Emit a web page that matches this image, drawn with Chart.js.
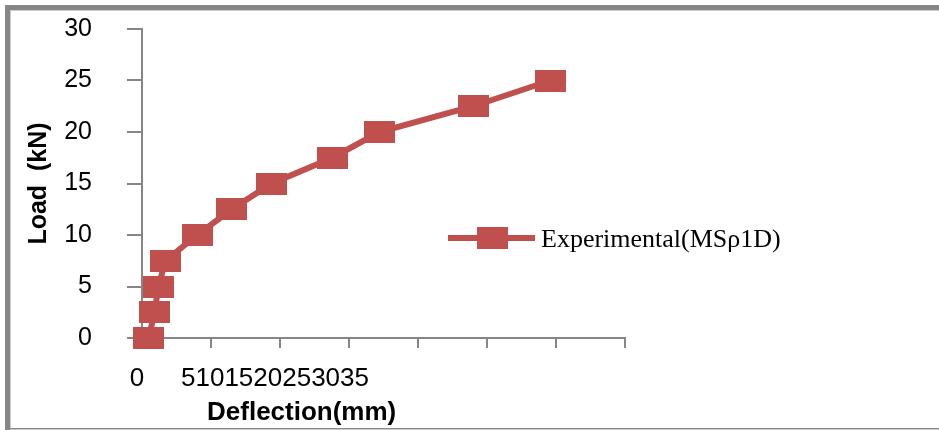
<!DOCTYPE html>
<html>
<head>
<meta charset="utf-8">
<script src="https://cdn.jsdelivr.net/npm/chart.js@4.4.1/dist/chart.umd.min.js"></script>
<style>
  html, body { margin: 0; padding: 0; background: #fff; }
  #wrap { position: relative; width: 939px; height: 430px; overflow: hidden; }
  /* grey frame round the picture (right side is cut off) */
  .frame { position: absolute; left: 5px; top: 5px; right: -20px; bottom: -20px;
           border-top: 5px solid #868686; border-left: 5px solid #868686; }
  .inner { position: absolute; left: 10px; top: 10px; right: -20px; bottom: -20px;
           border-top: 1px solid #cdcdcd; border-left: 1px solid #cdcdcd; }
  .base  { position: absolute; left: 10px; right: 0; top: 428px; height: 1px;
           background: #8a8a8a; border-bottom: 1px solid #c8c8c8; }
  canvas { position: absolute; left: 0; top: 0; }
</style>
</head>
<body>
<div id="wrap">
  <div class="frame"></div>
  <div class="inner"></div>
  <div class="base"></div>
  <canvas id="chart" width="939" height="430"></canvas>
</div>
<script>
// values
const deflection = [0.5, 0.9, 1.2, 1.7, 4.0, 6.5, 9.4, 13.8, 17.2, 24.0, 29.6]; // mm
const load       = [0, 2.5, 5, 7.5, 10, 12.5, 15, 17.5, 20, 22.5, 25];           // kN
const seriesName = "Experimental(MSρ1D)";
// x tick text as printed in the source (labels run together)
const xTickText  = ["0", "", "5101520253035", "", "", "", "", ""];

const red  = "#C0504D";
const grey = "#868686";

// square-ish marker used by Excel
const marker = document.createElement("canvas");
marker.width = 31;
marker.height = 22;
const mctx = marker.getContext("2d");
mctx.fillStyle = red;
mctx.fillRect(0, 0, 31, 22);

// legend sits inside the plot, like the original
const legendInPlot = {
  id: "legendInPlot",
  afterDatasetsDraw(chart) {
    const ds = chart.data.datasets[0];
    const ctx = chart.ctx;
    const x = 448, y = 238;
    ctx.save();
    ctx.strokeStyle = ds.borderColor;
    ctx.lineWidth = 6;
    ctx.beginPath();
    ctx.moveTo(x, y);
    ctx.lineTo(x + 87, y);
    ctx.stroke();
    ctx.drawImage(marker, x + 44 - marker.width / 2, y - marker.height / 2);
    ctx.fillStyle = "#000";
    ctx.font = '26px "Liberation Serif", "Times New Roman", serif';
    ctx.textBaseline = "alphabetic";
    ctx.fillText(ds.label, x + 93, y + 8.5);
    ctx.restore();
  }
};

new Chart(document.getElementById("chart"), {
  type: "line",
  data: {
    datasets: [{
      label: seriesName,
      data: deflection.map((d, i) => ({ x: d, y: load[i] })),
      borderColor: red,
      backgroundColor: red,
      borderWidth: 6,
      tension: 0,
      pointStyle: marker,
      pointRadius: 16,
      clip: false
    }]
  },
  options: {
    responsive: false,
    animation: false,
    layout: { padding: { left: 21, top: 29, right: 314, bottom: 2 } },
    plugins: {
      legend: { display: false },
      tooltip: { enabled: false }
    },
    scales: {
      x: {
        type: "linear",
        min: 0,
        max: 35,
        afterFit: s => { s.height = 90; },
        ticks: {
          stepSize: 5,
          autoSkip: false,
          maxRotation: 0,
          minRotation: 0,
          padding: 15,
          labelOffset: -5,
          color: "#000",
          font: { family: '"Liberation Sans", Arial, sans-serif', size: 26 },
          callback: v => xTickText[v / 5] ?? ""
        },
        grid: { drawOnChartArea: false, drawTicks: true, tickLength: 10, color: grey, lineWidth: 2 },
        border: { color: grey, width: 2 },
        title: {
          display: true,
          text: "         Deflection(mm)",
          align: "start",
          color: "#000",
          padding: { top: 0, bottom: 0 },
          font: { family: '"Liberation Sans", Arial, sans-serif', size: 26, weight: "bold" }
        }
      },
      y: {
        min: 0,
        max: 30,
        // fixed width; the big tick padding must not push the plot down
        afterFit: s => { s.width = 121; s.paddingTop = 0; s.paddingBottom = 0; },
        ticks: {
          stepSize: 5,
          padding: 35,
          color: "#000",
          font: { family: '"Liberation Sans", Arial, sans-serif', size: 25 }
        },
        grid: { drawOnChartArea: false, drawTicks: true, tickLength: 15, color: grey, lineWidth: 2 },
        border: { color: grey, width: 2 },
        title: {
          display: true,
          text: "Load  (kN)",
          color: "#000",
          padding: { top: 3, bottom: 0 },
          font: { family: '"Liberation Sans", Arial, sans-serif', size: 25, weight: "bold" }
        }
      }
    }
  },
  plugins: [legendInPlot]
});
</script>
</body>
</html>
